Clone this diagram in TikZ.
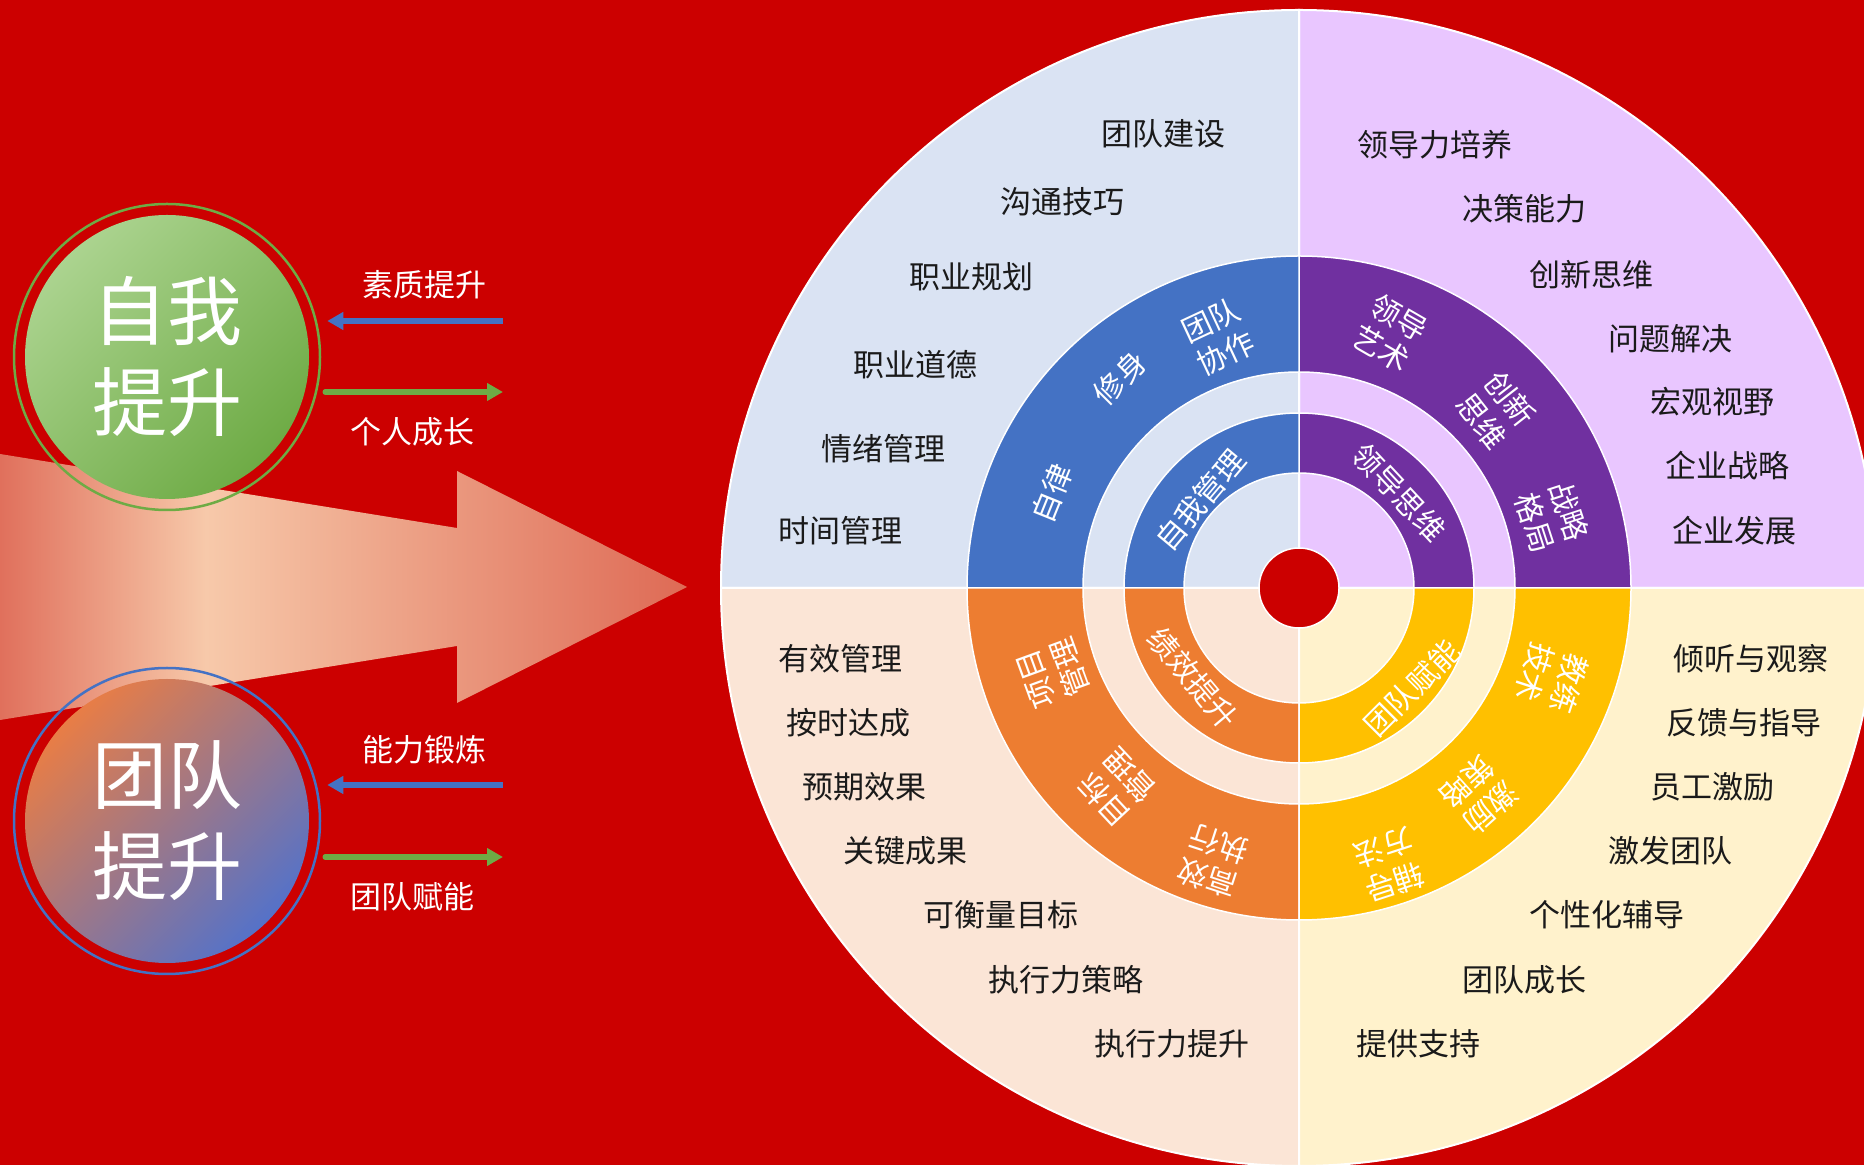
\documentclass[tikz,border=0pt]{standalone}
\usepackage{fontspec}
\setmainfont{Noto Sans CJK SC}
\usepackage{xcolor}
\usepackage{tikz}
\usetikzlibrary{calc,positioning,arrows.meta}
\definecolor{Crimson}{HTML}{CC0000}
\definecolor{Ink}{HTML}{1A1A1A}
\definecolor{QBlue}{HTML}{DAE3F3}
\definecolor{QLilac}{HTML}{E9C6FF}
\definecolor{QPeach}{HTML}{FBE5D6}
\definecolor{QCream}{HTML}{FFF2CC}
\definecolor{RBlue}{HTML}{4472C4}
\definecolor{RPurple}{HTML}{7030A0}
\definecolor{ROrange}{HTML}{ED7D31}
\definecolor{RGold}{HTML}{FFC000}
\definecolor{SelfTop}{HTML}{ABD38F}
\definecolor{SelfBot}{HTML}{6EAB45}
\definecolor{TeamTop}{HTML}{E87D46}
\definecolor{TeamBot}{HTML}{5572C8}
\definecolor{ArrowEdge}{HTML}{E0705C}
\definecolor{ArrowMid}{HTML}{F7C9AA}
\definecolor{ArrowTip}{HTML}{DE6A55}
\pgfdeclarehorizontalshading{arrowfade}{100bp}{color(0bp)=(ArrowEdge); color(25bp)=(ArrowEdge); color(40bp)=(ArrowMid); color(75bp)=(ArrowTip); color(100bp)=(ArrowTip)}

\begin{document}
\begin{tikzpicture}[x=1pt,y=1pt,
  item/.style={font=\fontsize{31}{36}\selectfont,text=Ink,inner sep=0},
  ringtxt/.style={font=\fontsize{30}{36}\selectfont,text=white,align=center,inner sep=0},
  sidetxt/.style={font=\fontsize{31}{36}\selectfont,text=white,inner sep=0},
  disc/.style={circle,line width=2.5pt,minimum size=306,inner sep=0,align=center,text=white,font=\fontsize{75}{91}\selectfont},
  pull/.style={-{Triangle[length=16pt,width=17pt]},line width=5.5pt,draw=RBlue,shorten >=6pt},
  push/.style={-{Triangle[length=16pt,width=17pt]},line width=5.5pt,draw=SelfBot,line cap=round,shorten <=4pt}]
\useasboundingbox (0,0) rectangle (1864,1165);
\fill[Crimson] (0,0) rectangle (1864,1165);
\clip (0,0) rectangle (1864,1165);
\shade[shading=arrowfade] (0,711) -- (457,637) -- (457,694) -- (687,578) -- (457,462) -- (457,519) -- (0,445) -- cycle;
\coordinate (hub) at (1299,577);
\fill[QLilac,draw=white,line width=2pt] (hub) -- ($(hub)+(0:578)$) arc[start angle=0,end angle=90,radius=578] -- cycle;
\fill[QBlue,draw=white,line width=2pt] (hub) -- ($(hub)+(90:578)$) arc[start angle=90,end angle=180,radius=578] -- cycle;
\fill[QPeach,draw=white,line width=2pt] (hub) -- ($(hub)+(180:578)$) arc[start angle=180,end angle=270,radius=578] -- cycle;
\fill[QCream,draw=white,line width=2pt] (hub) -- ($(hub)+(270:578)$) arc[start angle=270,end angle=360,radius=578] -- cycle;
\fill[RPurple,draw=white,line width=1.5pt] ($(hub)+(0:332)$) arc[start angle=0,end angle=90,radius=332] -- ($(hub)+(90:216)$) arc[start angle=90,end angle=0,radius=216] -- cycle;
\fill[RBlue,draw=white,line width=1.5pt] ($(hub)+(90:332)$) arc[start angle=90,end angle=180,radius=332] -- ($(hub)+(180:216)$) arc[start angle=180,end angle=90,radius=216] -- cycle;
\fill[ROrange,draw=white,line width=1.5pt] ($(hub)+(180:332)$) arc[start angle=180,end angle=270,radius=332] -- ($(hub)+(270:216)$) arc[start angle=270,end angle=180,radius=216] -- cycle;
\fill[RGold,draw=white,line width=1.5pt] ($(hub)+(270:332)$) arc[start angle=270,end angle=360,radius=332] -- ($(hub)+(360:216)$) arc[start angle=360,end angle=270,radius=216] -- cycle;
\fill[RPurple,draw=white,line width=1.5pt] ($(hub)+(0:175)$) arc[start angle=0,end angle=90,radius=175] -- ($(hub)+(90:115)$) arc[start angle=90,end angle=0,radius=115] -- cycle;
\fill[RBlue,draw=white,line width=1.5pt] ($(hub)+(90:175)$) arc[start angle=90,end angle=180,radius=175] -- ($(hub)+(180:115)$) arc[start angle=180,end angle=90,radius=115] -- cycle;
\fill[ROrange,draw=white,line width=1.5pt] ($(hub)+(180:175)$) arc[start angle=180,end angle=270,radius=175] -- ($(hub)+(270:115)$) arc[start angle=270,end angle=180,radius=115] -- cycle;
\fill[RGold,draw=white,line width=1.5pt] ($(hub)+(270:175)$) arc[start angle=270,end angle=360,radius=175] -- ($(hub)+(360:115)$) arc[start angle=360,end angle=270,radius=115] -- cycle;
\node[circle,fill=Crimson,draw=white,line width=1.5pt,minimum size=80,inner sep=0] (core) at (hub) {};
\node[ringtxt,rotate=25] (teamwork) at (1218,828) {团队\\协作};
\node[ringtxt,rotate=45] (cultivate) at (1120,787) {修身};
\node[ringtxt,rotate=68] (discipline) at (1052,672) {自律};
\node[ringtxt,rotate=-30] (leadart) at (1390,832) {领导\\艺术};
\node[ringtxt,rotate=-52] (innovate) at (1496,755) {创新\\思维};
\node[ringtxt,rotate=-72] (strategy) at (1552,648) {战略\\格局};
\node[ringtxt,rotate=110] (projmgmt) at (1053,492) {项目\\管理};
\node[ringtxt,rotate=133] (goalmgmt) at (1117,377) {目标\\管理};
\node[ringtxt,rotate=162] (execute) at (1213,304) {高效\\执行};
\node[ringtxt,rotate=-108] (coachtech) at (1552,487) {教练\\技术};
\node[ringtxt,rotate=-138] (motivate) at (1479,370) {激励\\策略};
\node[ringtxt,rotate=-162] (mentor) at (1389,300) {辅导\\方法};
\node[ringtxt,rotate=50] (selfmgmt) at (1200,665) {自我管理};
\node[ringtxt,rotate=-47] (leadmind) at (1399,672) {领导思维};
\node[ringtxt,rotate=-50] (perform) at (1193,487) {绩效提升};
\node[ringtxt,rotate=45] (empower) at (1412,477) {团队赋能};
\node[item] (tl1) at (1163,1031) {团队建设};
\node[item] (tl2) at (1062,963) {沟通技巧};
\node[item] (tl3) at (971,888) {职业规划};
\node[item] (tl4) at (915,800) {职业道德};
\node[item] (tl5) at (883,716) {情绪管理};
\node[item] (tl6) at (840,634) {时间管理};
\node[item] (tr1) at (1435,1020) {领导力培养};
\node[item] (tr2) at (1524,956) {决策能力};
\node[item] (tr3) at (1591,890) {创新思维};
\node[item] (tr4) at (1670,826) {问题解决};
\node[item] (tr5) at (1712,763) {宏观视野};
\node[item] (tr6) at (1727,699) {企业战略};
\node[item] (tr7) at (1734,634) {企业发展};
\node[item] (bl1) at (840,506) {有效管理};
\node[item] (bl2) at (848,442) {按时达成};
\node[item] (bl3) at (864,378) {预期效果};
\node[item] (bl4) at (905,314) {关键成果};
\node[item] (bl5) at (1001,250) {可衡量目标};
\node[item] (bl6) at (1066,185) {执行力策略};
\node[item] (bl7) at (1172,121) {执行力提升};
\node[item] (br1) at (1751,506) {倾听与观察};
\node[item] (br2) at (1744,442) {反馈与指导};
\node[item] (br3) at (1712,378) {员工激励};
\node[item] (br4) at (1670,314) {激发团队};
\node[item] (br5) at (1607,250) {个性化辅导};
\node[item] (br6) at (1524,185) {团队成长};
\node[item] (br7) at (1418,121) {提供支持};
\coordinate (selfc) at (167,808);
\shade[top color=SelfTop,bottom color=SelfBot,shading angle=45] (selfc) circle (142);
\node[disc,draw=SelfBot] (self) at (selfc) {自我\\提升};
\coordinate (teamc) at (167,344);
\shade[top color=TeamTop,bottom color=TeamBot,shading angle=45] (teamc) circle (142);
\node[disc,draw=RBlue] (team) at (teamc) {团队\\提升};
\coordinate (selfin) at (503,844);
\coordinate (selfout) at (503,773);
\coordinate (teamin) at (503,380);
\coordinate (teamout) at (503,308);
\draw[pull] (selfin) -- (selfin -| self.east) node[sidetxt,midway,yshift=36pt,xshift=12pt] (quality) {素质提升};
\draw[push] (self.east |- selfout) -- (selfout) node[sidetxt,midway,yshift=-40pt] (growth) {个人成长};
\draw[pull] (teamin) -- (teamin -| team.east) node[sidetxt,midway,yshift=35pt,xshift=12pt] (ability) {能力锻炼};
\draw[push] (team.east |- teamout) -- (teamout) node[sidetxt,midway,yshift=-40pt] (enable) {团队赋能};
\end{tikzpicture}
\end{document}
